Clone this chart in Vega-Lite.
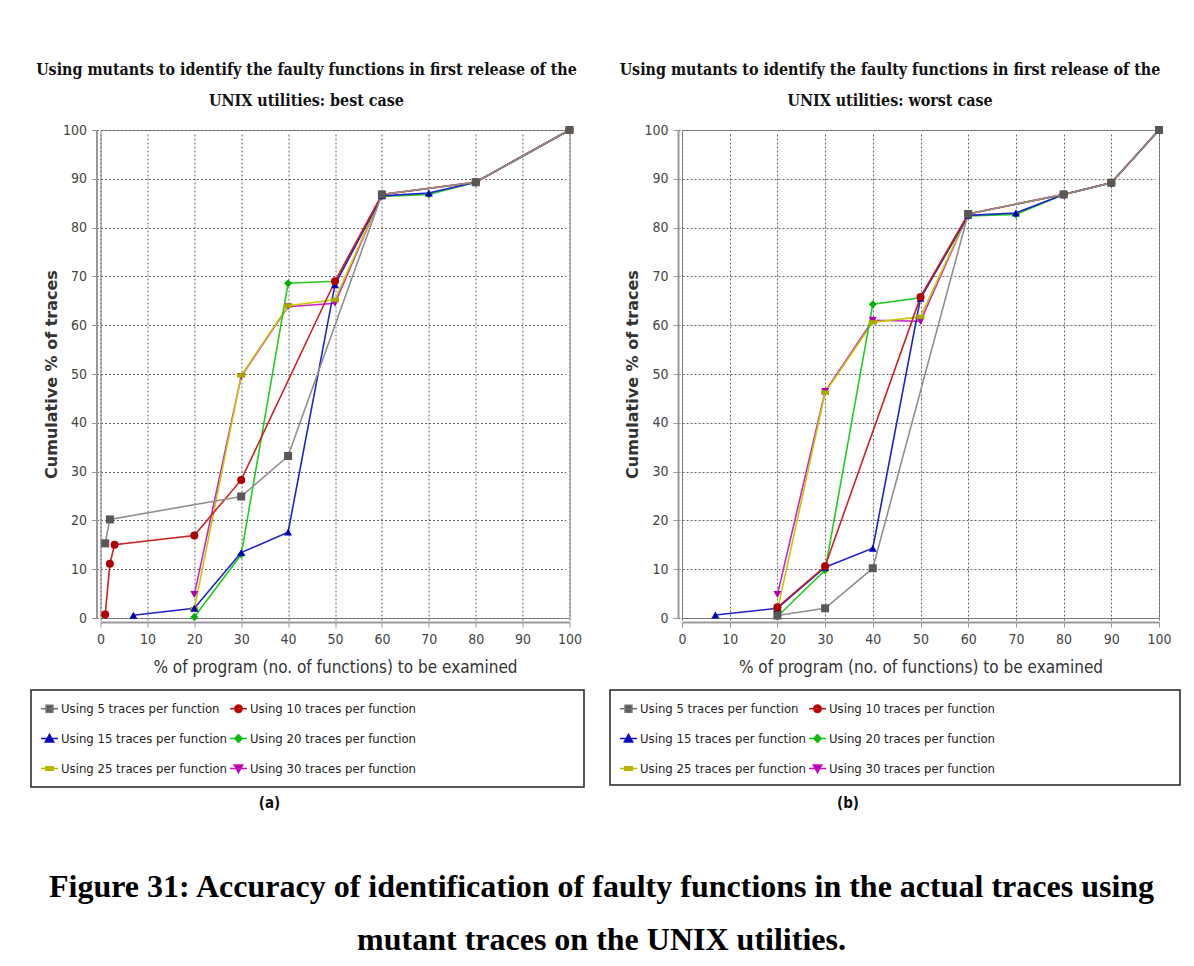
{
  "$schema": "https://vega.github.io/schema/vega-lite/v6.json",
  "background": "white",
  "padding": {"left": 30, "top": 61, "right": 5, "bottom": 10},
  "datasets": {
    "best": [
      {"series": "Using 30 traces per function", "x": 20, "y": 4.8},
      {"series": "Using 30 traces per function", "x": 30, "y": 49.5},
      {"series": "Using 30 traces per function", "x": 40, "y": 63.8},
      {"series": "Using 30 traces per function", "x": 50, "y": 64.5},
      {"series": "Using 30 traces per function", "x": 60, "y": 86.8},
      {"series": "Using 30 traces per function", "x": 80, "y": 89.3},
      {"series": "Using 30 traces per function", "x": 100, "y": 100},
      {"series": "Using 25 traces per function", "x": 20, "y": 1.8},
      {"series": "Using 25 traces per function", "x": 30, "y": 49.7},
      {"series": "Using 25 traces per function", "x": 40, "y": 64.0},
      {"series": "Using 25 traces per function", "x": 50, "y": 65.2},
      {"series": "Using 25 traces per function", "x": 60, "y": 86.8},
      {"series": "Using 25 traces per function", "x": 80, "y": 89.3},
      {"series": "Using 25 traces per function", "x": 100, "y": 100},
      {"series": "Using 20 traces per function", "x": 20, "y": 0.2},
      {"series": "Using 20 traces per function", "x": 30, "y": 13.0},
      {"series": "Using 20 traces per function", "x": 40, "y": 68.6},
      {"series": "Using 20 traces per function", "x": 50, "y": 69.0},
      {"series": "Using 20 traces per function", "x": 60, "y": 86.4},
      {"series": "Using 20 traces per function", "x": 70, "y": 86.8},
      {"series": "Using 20 traces per function", "x": 80, "y": 89.3},
      {"series": "Using 20 traces per function", "x": 100, "y": 100},
      {"series": "Using 15 traces per function", "x": 7, "y": 0.55},
      {"series": "Using 15 traces per function", "x": 20, "y": 2.0},
      {"series": "Using 15 traces per function", "x": 30, "y": 13.4},
      {"series": "Using 15 traces per function", "x": 40, "y": 17.6},
      {"series": "Using 15 traces per function", "x": 50, "y": 68.3},
      {"series": "Using 15 traces per function", "x": 60, "y": 86.5},
      {"series": "Using 15 traces per function", "x": 70, "y": 87.1},
      {"series": "Using 15 traces per function", "x": 80, "y": 89.3},
      {"series": "Using 15 traces per function", "x": 100, "y": 100},
      {"series": "Using 10 traces per function", "x": 1, "y": 0.7},
      {"series": "Using 10 traces per function", "x": 2, "y": 11.1},
      {"series": "Using 10 traces per function", "x": 3, "y": 15.0},
      {"series": "Using 10 traces per function", "x": 20, "y": 16.9},
      {"series": "Using 10 traces per function", "x": 30, "y": 28.3},
      {"series": "Using 10 traces per function", "x": 50, "y": 69.0},
      {"series": "Using 10 traces per function", "x": 60, "y": 86.8},
      {"series": "Using 10 traces per function", "x": 80, "y": 89.3},
      {"series": "Using 10 traces per function", "x": 100, "y": 100},
      {"series": "Using 5 traces per function", "x": 1, "y": 15.3},
      {"series": "Using 5 traces per function", "x": 2, "y": 20.2},
      {"series": "Using 5 traces per function", "x": 30, "y": 24.9},
      {"series": "Using 5 traces per function", "x": 40, "y": 33.2},
      {"series": "Using 5 traces per function", "x": 60, "y": 86.8},
      {"series": "Using 5 traces per function", "x": 80, "y": 89.3},
      {"series": "Using 5 traces per function", "x": 100, "y": 100}
    ],
    "worst": [
      {"series": "Using 30 traces per function", "x": 20, "y": 4.8},
      {"series": "Using 30 traces per function", "x": 30, "y": 46.4},
      {"series": "Using 30 traces per function", "x": 40, "y": 61.0},
      {"series": "Using 30 traces per function", "x": 50, "y": 60.8},
      {"series": "Using 30 traces per function", "x": 60, "y": 82.8},
      {"series": "Using 30 traces per function", "x": 80, "y": 86.8},
      {"series": "Using 30 traces per function", "x": 90, "y": 89.2},
      {"series": "Using 30 traces per function", "x": 100, "y": 100},
      {"series": "Using 25 traces per function", "x": 20, "y": 1.5},
      {"series": "Using 25 traces per function", "x": 30, "y": 46.2},
      {"series": "Using 25 traces per function", "x": 40, "y": 60.6},
      {"series": "Using 25 traces per function", "x": 50, "y": 61.7},
      {"series": "Using 25 traces per function", "x": 60, "y": 82.8},
      {"series": "Using 25 traces per function", "x": 80, "y": 86.8},
      {"series": "Using 25 traces per function", "x": 90, "y": 89.2},
      {"series": "Using 25 traces per function", "x": 100, "y": 100},
      {"series": "Using 20 traces per function", "x": 20, "y": 0.3},
      {"series": "Using 20 traces per function", "x": 30, "y": 9.8},
      {"series": "Using 20 traces per function", "x": 40, "y": 64.3},
      {"series": "Using 20 traces per function", "x": 50, "y": 65.6},
      {"series": "Using 20 traces per function", "x": 60, "y": 82.4},
      {"series": "Using 20 traces per function", "x": 70, "y": 82.7},
      {"series": "Using 20 traces per function", "x": 80, "y": 86.8},
      {"series": "Using 20 traces per function", "x": 90, "y": 89.2},
      {"series": "Using 20 traces per function", "x": 100, "y": 100},
      {"series": "Using 15 traces per function", "x": 7, "y": 0.6},
      {"series": "Using 15 traces per function", "x": 20, "y": 2.0},
      {"series": "Using 15 traces per function", "x": 30, "y": 10.4},
      {"series": "Using 15 traces per function", "x": 40, "y": 14.3},
      {"series": "Using 15 traces per function", "x": 50, "y": 65.5},
      {"series": "Using 15 traces per function", "x": 60, "y": 82.5},
      {"series": "Using 15 traces per function", "x": 70, "y": 83.0},
      {"series": "Using 15 traces per function", "x": 80, "y": 86.8},
      {"series": "Using 15 traces per function", "x": 90, "y": 89.2},
      {"series": "Using 15 traces per function", "x": 100, "y": 100},
      {"series": "Using 10 traces per function", "x": 20, "y": 2.2},
      {"series": "Using 10 traces per function", "x": 30, "y": 10.6},
      {"series": "Using 10 traces per function", "x": 50, "y": 65.8},
      {"series": "Using 10 traces per function", "x": 60, "y": 82.8},
      {"series": "Using 10 traces per function", "x": 80, "y": 86.8},
      {"series": "Using 10 traces per function", "x": 90, "y": 89.2},
      {"series": "Using 10 traces per function", "x": 100, "y": 100},
      {"series": "Using 5 traces per function", "x": 20, "y": 0.5},
      {"series": "Using 5 traces per function", "x": 30, "y": 2.0},
      {"series": "Using 5 traces per function", "x": 40, "y": 10.2},
      {"series": "Using 5 traces per function", "x": 60, "y": 82.8},
      {"series": "Using 5 traces per function", "x": 80, "y": 86.8},
      {"series": "Using 5 traces per function", "x": 90, "y": 89.2},
      {"series": "Using 5 traces per function", "x": 100, "y": 100}
    ]
  },
  "title": {
    "text": ["Figure 31: Accuracy of identification of faulty functions in the actual traces using", "mutant traces on the UNIX utilities."],
    "orient": "bottom",
    "anchor": "middle",
    "frame": "bounds",
    "font": "Liberation Serif",
    "fontSize": 32,
    "fontWeight": "bold",
    "color": "#000000",
    "lineHeight": 53,
    "dx": -4,
    "offset": 60
  },
  "concat": [
    {
      "hconcat": [
        {
          "hconcat": [
            {
              "width": 1,
              "height": 1,
              "view": {"stroke": null},
              "data": {"values": []},
              "mark": "point"
            },
            {
              "width": 469,
              "height": 488,
              "view": {"stroke": "#8c8c8c", "strokeWidth": 1},
              "title": {
                "text": ["Using mutants to identify the faulty functions in first release of the", "UNIX utilities: best case"],
                "font": "DejaVu Serif Condensed",
                "fontSize": 15.9,
                "fontWeight": "bold",
                "color": "#111111",
                "lineHeight": 31,
                "anchor": "middle",
                "frame": "bounds",
                "dx": -6,
                "offset": 14
              },
              "data": {"name": "best"},
              "encoding": {
                "x": {"field": "x", "type": "quantitative", "scale": {"domain": [0, 100], "nice": false},
                      "axis": {"values": [0, 10, 20, 30, 40, 50, 60, 70, 80, 90, 100], "title": "% of program (no. of functions) to be examined"}},
                "y": {"field": "y", "type": "quantitative", "scale": {"domain": [0, 100], "nice": false},
                      "axis": {"values": [0, 10, 20, 30, 40, 50, 60, 70, 80, 90, 100], "title": "Cumulative % of traces"}}
              },
              "layer": [
                {
                  "mark": {"type": "line", "strokeWidth": 1.6},
                  "encoding": {
                    "stroke": {"field": "series", "type": "nominal", "legend": null,
                      "scale": {"domain": ["Using 5 traces per function", "Using 10 traces per function", "Using 15 traces per function", "Using 20 traces per function", "Using 25 traces per function", "Using 30 traces per function"],
                                "range": ["#8f8f8f", "#cc2222", "#2222cc", "#22cc22", "#c8c800", "#cc22cc"]}}
                  }
                },
                {
                  "mark": {"type": "point", "filled": true, "opacity": 1, "size": 64},
                  "encoding": {
                    "fill": {"field": "series", "type": "nominal", "legend": null,
                      "scale": {"domain": ["Using 5 traces per function", "Using 10 traces per function", "Using 15 traces per function", "Using 20 traces per function", "Using 25 traces per function", "Using 30 traces per function"],
                                "range": ["#585858", "#b00000", "#0000b8", "#00b000", "#a8a800", "#b000b0"]}},
                    "shape": {"field": "series", "type": "nominal", "legend": null,
                      "scale": {"domain": ["Using 5 traces per function", "Using 10 traces per function", "Using 15 traces per function", "Using 20 traces per function", "Using 25 traces per function", "Using 30 traces per function"],
                                "range": ["square", "circle", "triangle-up", "diamond", "M-1,-0.55H1V0.55H-1Z", "triangle-down"]}}
                  }
                }
              ]
            }
          ],
          "spacing": 3.5,
          "resolve": {"scale": {"fill": "independent", "stroke": "independent", "shape": "independent"}}
        },
        {
          "width": 477,
          "height": 488,
          "view": {"stroke": "#8c8c8c", "strokeWidth": 1},
          "title": {
            "text": ["Using mutants to identify the faulty functions in first release of the", "UNIX utilities: worst case"],
            "font": "DejaVu Serif Condensed",
            "fontSize": 15.9,
            "fontWeight": "bold",
            "color": "#111111",
            "lineHeight": 31,
            "anchor": "middle",
            "frame": "bounds",
            "dx": -8,
            "offset": 14
          },
          "data": {"name": "worst"},
          "encoding": {
            "x": {"field": "x", "type": "quantitative", "scale": {"domain": [0, 100], "nice": false},
                  "axis": {"values": [0, 10, 20, 30, 40, 50, 60, 70, 80, 90, 100], "title": "% of program (no. of functions) to be examined"}},
            "y": {"field": "y", "type": "quantitative", "scale": {"domain": [0, 100], "nice": false},
                  "axis": {"values": [0, 10, 20, 30, 40, 50, 60, 70, 80, 90, 100], "title": "Cumulative % of traces"}}
          },
          "layer": [
            {
              "mark": {"type": "line", "strokeWidth": 1.6},
              "encoding": {
                "stroke": {"field": "series", "type": "nominal", "legend": null,
                  "scale": {"domain": ["Using 5 traces per function", "Using 10 traces per function", "Using 15 traces per function", "Using 20 traces per function", "Using 25 traces per function", "Using 30 traces per function"],
                            "range": ["#8f8f8f", "#cc2222", "#2222cc", "#22cc22", "#c8c800", "#cc22cc"]}}
              }
            },
            {
              "mark": {"type": "point", "filled": true, "opacity": 1, "size": 64},
              "encoding": {
                "fill": {"field": "series", "type": "nominal", "legend": null,
                  "scale": {"domain": ["Using 5 traces per function", "Using 10 traces per function", "Using 15 traces per function", "Using 20 traces per function", "Using 25 traces per function", "Using 30 traces per function"],
                            "range": ["#585858", "#b00000", "#0000b8", "#00b000", "#a8a800", "#b000b0"]}},
                "shape": {"field": "series", "type": "nominal", "legend": null,
                  "scale": {"domain": ["Using 5 traces per function", "Using 10 traces per function", "Using 15 traces per function", "Using 20 traces per function", "Using 25 traces per function", "Using 30 traces per function"],
                            "range": ["square", "circle", "triangle-up", "diamond", "M-1,-0.55H1V0.55H-1Z", "triangle-down"]}}
              }
            }
          ]
        }
      ],
      "spacing": 36,
      "resolve": {"scale": {"fill": "independent", "stroke": "independent", "shape": "independent"}}
    },
    {
      "hconcat": [
        {
          "width": 553,
          "height": 97,
          "view": {"stroke": "#222222", "strokeWidth": 1.5},
          "title": {"text": "(a)", "orient": "bottom", "font": "DejaVu Sans Condensed", "fontSize": 15, "fontWeight": "bold", "color": "#111111", "offset": 9, "dx": -38},
          "data": {"values": []},
          "mark": {"type": "point", "filled": true},
          "encoding": {
            "fill": {"field": "series", "type": "nominal",
              "scale": {"domain": ["Using 5 traces per function", "Using 10 traces per function", "Using 15 traces per function", "Using 20 traces per function", "Using 25 traces per function", "Using 30 traces per function"],
                        "range": ["#585858", "#b00000", "#0000b8", "#00b000", "#a8a800", "#b000b0"]},
              "legend": {"title": null, "orient": "top-left", "direction": "horizontal", "offset": 0, "padding": 9, "columns": 2, "columnPadding": 0, "rowPadding": 13, "symbolSize": 289, "symbolStrokeWidth": 1.5, "symbolOpacity": 1, "labelFont": "DejaVu Sans Condensed", "labelFontSize": 13, "labelColor": "#222222", "labelOffset": 2, "labelLimit": 400}},
            "stroke": {"field": "series", "type": "nominal",
              "scale": {"domain": ["Using 5 traces per function", "Using 10 traces per function", "Using 15 traces per function", "Using 20 traces per function", "Using 25 traces per function", "Using 30 traces per function"],
                        "range": ["#707070", "#c01010", "#1010c0", "#10c010", "#b8b800", "#c010c0"]},
              "legend": {"title": null, "orient": "top-left", "direction": "horizontal", "offset": 0, "padding": 9, "columns": 2, "columnPadding": 0, "rowPadding": 13, "symbolSize": 289, "symbolStrokeWidth": 1.5, "symbolOpacity": 1, "labelFont": "DejaVu Sans Condensed", "labelFontSize": 13, "labelColor": "#222222", "labelOffset": 2, "labelLimit": 400}},
            "shape": {"field": "series", "type": "nominal",
              "scale": {"domain": ["Using 5 traces per function", "Using 10 traces per function", "Using 15 traces per function", "Using 20 traces per function", "Using 25 traces per function", "Using 30 traces per function"],
                        "range": ["M-1,0H1M-0.4,-0.4H0.4V0.4H-0.4Z", "M-1,0H1M-0.45,0A0.45,0.45 0 1,0 0.45,0A0.45,0.45 0 1,0 -0.45,0Z", "M-1,0H1M0,-0.5L0.5,0.4H-0.5Z", "M-1,0H1M0,-0.45L0.45,0L0,0.45L-0.45,0Z", "M-1,0H1M-0.45,-0.2H0.45V0.2H-0.45Z", "M-1,0H1M0,0.5L0.5,-0.4H-0.5Z"]},
              "legend": {"title": null, "orient": "top-left", "direction": "horizontal", "offset": 0, "padding": 9, "columns": 2, "columnPadding": 0, "rowPadding": 13, "symbolSize": 289, "symbolStrokeWidth": 1.5, "symbolOpacity": 1, "labelFont": "DejaVu Sans Condensed", "labelFontSize": 13, "labelColor": "#222222", "labelOffset": 2, "labelLimit": 400}}
          }
        },
        {
          "width": 570,
          "height": 95,
          "view": {"stroke": "#222222", "strokeWidth": 1.5},
          "title": {"text": "(b)", "orient": "bottom", "font": "DejaVu Sans Condensed", "fontSize": 15, "fontWeight": "bold", "color": "#111111", "offset": 11, "dx": -47},
          "data": {"values": []},
          "mark": {"type": "point", "filled": true},
          "encoding": {
            "fill": {"field": "series", "type": "nominal",
              "scale": {"domain": ["Using 5 traces per function", "Using 10 traces per function", "Using 15 traces per function", "Using 20 traces per function", "Using 25 traces per function", "Using 30 traces per function"],
                        "range": ["#585858", "#b00000", "#0000b8", "#00b000", "#a8a800", "#b000b0"]},
              "legend": {"title": null, "orient": "top-left", "direction": "horizontal", "offset": 0, "padding": 9, "columns": 2, "columnPadding": 0, "rowPadding": 13, "symbolSize": 289, "symbolStrokeWidth": 1.5, "symbolOpacity": 1, "labelFont": "DejaVu Sans Condensed", "labelFontSize": 13, "labelColor": "#222222", "labelOffset": 2, "labelLimit": 400}},
            "stroke": {"field": "series", "type": "nominal",
              "scale": {"domain": ["Using 5 traces per function", "Using 10 traces per function", "Using 15 traces per function", "Using 20 traces per function", "Using 25 traces per function", "Using 30 traces per function"],
                        "range": ["#707070", "#c01010", "#1010c0", "#10c010", "#b8b800", "#c010c0"]},
              "legend": {"title": null, "orient": "top-left", "direction": "horizontal", "offset": 0, "padding": 9, "columns": 2, "columnPadding": 0, "rowPadding": 13, "symbolSize": 289, "symbolStrokeWidth": 1.5, "symbolOpacity": 1, "labelFont": "DejaVu Sans Condensed", "labelFontSize": 13, "labelColor": "#222222", "labelOffset": 2, "labelLimit": 400}},
            "shape": {"field": "series", "type": "nominal",
              "scale": {"domain": ["Using 5 traces per function", "Using 10 traces per function", "Using 15 traces per function", "Using 20 traces per function", "Using 25 traces per function", "Using 30 traces per function"],
                        "range": ["M-1,0H1M-0.4,-0.4H0.4V0.4H-0.4Z", "M-1,0H1M-0.45,0A0.45,0.45 0 1,0 0.45,0A0.45,0.45 0 1,0 -0.45,0Z", "M-1,0H1M0,-0.5L0.5,0.4H-0.5Z", "M-1,0H1M0,-0.45L0.45,0L0,0.45L-0.45,0Z", "M-1,0H1M-0.45,-0.2H0.45V0.2H-0.45Z", "M-1,0H1M0,0.5L0.5,-0.4H-0.5Z"]},
              "legend": {"title": null, "orient": "top-left", "direction": "horizontal", "offset": 0, "padding": 9, "columns": 2, "columnPadding": 0, "rowPadding": 13, "symbolSize": 289, "symbolStrokeWidth": 1.5, "symbolOpacity": 1, "labelFont": "DejaVu Sans Condensed", "labelFontSize": 13, "labelColor": "#222222", "labelOffset": 2, "labelLimit": 400}}
          }
        }
      ],
      "spacing": 24,
      "resolve": {"scale": {"fill": "independent", "stroke": "independent", "shape": "independent"}}
    }
  ],
  "columns": 1,
  "align": "none",
  "spacing": 13,
  "resolve": {"scale": {"fill": "independent", "stroke": "independent", "shape": "independent"}},
  "config": {
    "font": "DejaVu Sans Condensed",
    "axis": {
      "labelFont": "DejaVu Sans Condensed",
      "labelFontSize": 14,
      "labelColor": "#444444",
      "labelFlush": false,
      "labelOverlap": false,
      "labelPadding": 5,
      "grid": true,
      "gridColor": "#666666",
      "gridDash": [2, 2],
      "gridWidth": 1,
      "domainColor": "#999999",
      "domainWidth": 2,
      "tickColor": "#999999",
      "tickSize": 5,
      "offset": 4,
      "titleColor": "#333333"
    },
    "axisX": {"titleFont": "DejaVu Sans Condensed", "titleFontSize": 17, "titleFontWeight": "normal", "titlePadding": 13},
    "axisY": {"titleFont": "DejaVu Sans", "titleFontSize": 16, "titleFontWeight": "bold", "titlePadding": 3}
  }
}
